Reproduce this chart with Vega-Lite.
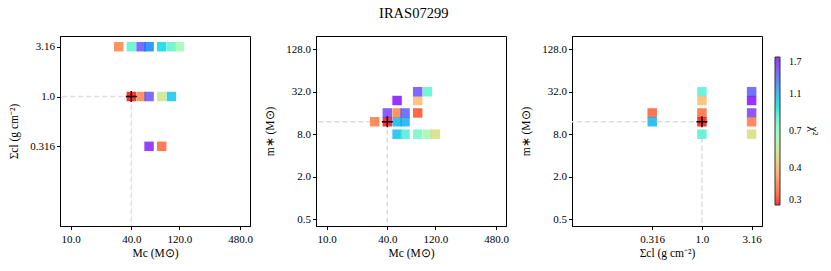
{
  "$schema": "https://vega.github.io/schema/vega-lite/v6.json",
  "padding": {"left": 7, "top": 6, "right": 5, "bottom": 5},
  "title": {"text": "IRAS07299", "fontSize": 14.5, "fontWeight": "normal", "font": "Liberation Serif", "anchor": "middle", "offset": 14, "color": "#000"},
  "datasets": {
    "mcs": [
      {"Mc": 30, "sigma": 3.16, "chi2": 0.36},
      {"Mc": 40, "sigma": 3.16, "chi2": 0.8},
      {"Mc": 50, "sigma": 3.16, "chi2": 1.5},
      {"Mc": 60, "sigma": 3.16, "chi2": 1.27},
      {"Mc": 80, "sigma": 3.16, "chi2": 0.95},
      {"Mc": 100, "sigma": 3.16, "chi2": 0.8},
      {"Mc": 120, "sigma": 3.16, "chi2": 0.64},
      {"Mc": 40, "sigma": 1, "chi2": 0.27},
      {"Mc": 50, "sigma": 1, "chi2": 0.36},
      {"Mc": 60, "sigma": 1, "chi2": 1.5},
      {"Mc": 80, "sigma": 1, "chi2": 0.52},
      {"Mc": 100, "sigma": 1, "chi2": 1.02},
      {"Mc": 60, "sigma": 0.316, "chi2": 1.68},
      {"Mc": 80, "sigma": 0.316, "chi2": 0.33}
    ],
    "mcm": [
      {"Mc": 50, "mstar": 8, "chi2": 1.05},
      {"Mc": 60, "mstar": 8, "chi2": 0.85},
      {"Mc": 80, "mstar": 8, "chi2": 0.74},
      {"Mc": 100, "mstar": 8, "chi2": 0.62},
      {"Mc": 120, "mstar": 8, "chi2": 0.5},
      {"Mc": 30, "mstar": 12, "chi2": 0.35},
      {"Mc": 40, "mstar": 12, "chi2": 0.27},
      {"Mc": 50, "mstar": 12, "chi2": 1.08},
      {"Mc": 60, "mstar": 12, "chi2": 1.1},
      {"Mc": 40, "mstar": 16, "chi2": 1.6},
      {"Mc": 50, "mstar": 16, "chi2": 0.36},
      {"Mc": 60, "mstar": 16, "chi2": 1.45},
      {"Mc": 80, "mstar": 16, "chi2": 0.3},
      {"Mc": 50, "mstar": 24, "chi2": 1.7},
      {"Mc": 80, "mstar": 24, "chi2": 0.43},
      {"Mc": 80, "mstar": 32, "chi2": 1.55},
      {"Mc": 100, "mstar": 32, "chi2": 0.8}
    ],
    "sm": [
      {"sigma": 0.316, "mstar": 16, "chi2": 0.32},
      {"sigma": 0.316, "mstar": 12, "chi2": 1.08},
      {"sigma": 1, "mstar": 32, "chi2": 0.82},
      {"sigma": 1, "mstar": 24, "chi2": 0.43},
      {"sigma": 1, "mstar": 16, "chi2": 0.34},
      {"sigma": 1, "mstar": 12, "chi2": 0.27},
      {"sigma": 1, "mstar": 8, "chi2": 0.82},
      {"sigma": 3.16, "mstar": 32, "chi2": 1.45},
      {"sigma": 3.16, "mstar": 24, "chi2": 1.7},
      {"sigma": 3.16, "mstar": 16, "chi2": 1.62},
      {"sigma": 3.16, "mstar": 12, "chi2": 0.35},
      {"sigma": 3.16, "mstar": 8, "chi2": 0.5}
    ],
    "best": [
      {"Mc": 40, "sigma": 1, "mstar": 12}
    ]
  },
  "spacing": 10,
  "hconcat": [
    {
      "width": 190, "height": 190,
      "encoding": {
        "x": {"field": "Mc", "type": "quantitative", "scale": {"type": "log", "domain": [7.84, 602], "nice": false, "zero": false}, "axis": {"values": [10, 40, 120, 480], "format": ".1f", "title": "Mc (M⊙)"}},
        "y": {"field": "sigma", "type": "quantitative", "scale": {"type": "log", "domain": [0.0501, 4.05], "nice": false, "zero": false}, "axis": {"values": [0.316, 1, 3.16], "labelExpr": "datum.value == 1 ? '1.0' : format(datum.value, '.3~g')", "title": "Σcl (g cm⁻²)"}}
      },
      "layer": [
        {"data": {"name": "best"}, "mark": {"type": "rule", "color": "#dddddd", "strokeWidth": 1.5, "strokeDash": [5, 3]}, "encoding": {"x2": {"datum": 7.84}}},
        {"data": {"name": "best"}, "mark": {"type": "rule", "color": "#dddddd", "strokeWidth": 1.5, "strokeDash": [5, 3]}, "encoding": {"y2": {"datum": 0.0501}}},
        {"data": {"name": "mcs"}, "mark": {"type": "point", "shape": "square", "filled": true, "size": 90, "opacity": 0.8}, "encoding": {"color": {"field": "chi2", "type": "quantitative", "scale": {"type": "log", "domain": [0.27, 1.7], "range": ["#ff0000", "#ff6232", "#ffb462", "#bfec8e", "#80ffb4", "#40ecd4", "#00b4ec", "#4062fa", "#8000ff"]}, "legend": {"values": [0.27, 0.428, 0.677, 1.073, 1.7], "format": ".1f", "title": "χ²", "titleOrient": "right", "orient": "none", "legendX": 715, "legendY": 21, "direction": "vertical", "gradientLength": 148, "gradientThickness": 5, "gradientStrokeColor": "#000", "gradientStrokeWidth": 1, "labelOffset": 9, "labelFontSize": 10, "labelFont": "Liberation Serif", "labelColor": "#000", "titleFontSize": 12, "titleFont": "Liberation Serif", "titleFontWeight": "normal", "titleColor": "#000", "titlePadding": 5, "encode": {"title": {"update": {"angle": {"value": -90}}}}}}}},
        {"data": {"name": "best"}, "mark": {"type": "point", "shape": "M-1,0L1,0M0,-1L0,1", "filled": false, "size": 121, "stroke": "#000", "strokeWidth": 1.5, "opacity": 1}}
      ]
    },
    {
      "width": 190, "height": 190,
      "encoding": {
        "x": {"field": "Mc", "type": "quantitative", "scale": {"type": "log", "domain": [7.84, 602], "nice": false, "zero": false}, "axis": {"values": [10, 40, 120, 480], "format": ".1f", "title": "Mc (M⊙)"}},
        "y": {"field": "mstar", "type": "quantitative", "scale": {"type": "log", "domain": [0.40, 197], "nice": false, "zero": false}, "axis": {"values": [0.5, 2, 8, 32, 128], "format": ".1f", "title": "m∗ (M⊙)"}}
      },
      "layer": [
        {"data": {"name": "best"}, "mark": {"type": "rule", "color": "#dddddd", "strokeWidth": 1.5, "strokeDash": [5, 3]}, "encoding": {"x2": {"datum": 7.84}}},
        {"data": {"name": "best"}, "mark": {"type": "rule", "color": "#dddddd", "strokeWidth": 1.5, "strokeDash": [5, 3]}, "encoding": {"y2": {"datum": 0.40}}},
        {"data": {"name": "mcm"}, "mark": {"type": "point", "shape": "square", "filled": true, "size": 90, "opacity": 0.8}, "encoding": {"color": {"field": "chi2", "type": "quantitative", "scale": {"type": "log", "domain": [0.27, 1.7], "range": ["#ff0000", "#ff6232", "#ffb462", "#bfec8e", "#80ffb4", "#40ecd4", "#00b4ec", "#4062fa", "#8000ff"]}}}},
        {"data": {"name": "best"}, "mark": {"type": "point", "shape": "M-1,0L1,0M0,-1L0,1", "filled": false, "size": 121, "stroke": "#000", "strokeWidth": 1.5, "opacity": 1}}
      ]
    },
    {
      "width": 190, "height": 190,
      "encoding": {
        "x": {"field": "sigma", "type": "quantitative", "scale": {"type": "log", "domain": [0.0493, 4.02], "nice": false, "zero": false}, "axis": {"values": [0.316, 1, 3.16], "labelExpr": "datum.value == 1 ? '1.0' : format(datum.value, '.3~g')", "title": "Σcl (g cm⁻²)"}},
        "y": {"field": "mstar", "type": "quantitative", "scale": {"type": "log", "domain": [0.40, 197], "nice": false, "zero": false}, "axis": {"values": [0.5, 2, 8, 32, 128], "format": ".1f", "title": "m∗ (M⊙)"}}
      },
      "layer": [
        {"data": {"name": "best"}, "mark": {"type": "rule", "color": "#dddddd", "strokeWidth": 1.5, "strokeDash": [5, 3]}, "encoding": {"x2": {"datum": 0.0493}}},
        {"data": {"name": "best"}, "mark": {"type": "rule", "color": "#dddddd", "strokeWidth": 1.5, "strokeDash": [5, 3]}, "encoding": {"y2": {"datum": 0.40}}},
        {"data": {"name": "sm"}, "mark": {"type": "point", "shape": "square", "filled": true, "size": 90, "opacity": 0.8}, "encoding": {"color": {"field": "chi2", "type": "quantitative", "scale": {"type": "log", "domain": [0.27, 1.7], "range": ["#ff0000", "#ff6232", "#ffb462", "#bfec8e", "#80ffb4", "#40ecd4", "#00b4ec", "#4062fa", "#8000ff"]}}}},
        {"data": {"name": "best"}, "mark": {"type": "point", "shape": "M-1,0L1,0M0,-1L0,1", "filled": false, "size": 121, "stroke": "#000", "strokeWidth": 1.5, "opacity": 1}}
      ]
    }
  ],
  "config": {
    "font": "Liberation Serif",
    "view": {"stroke": "#000", "strokeWidth": 1},
    "axis": {"grid": false, "domainColor": "#000", "domainWidth": 1, "tickColor": "#000", "tickSize": 3.5, "labelColor": "#000", "titleColor": "#000", "labelFont": "Liberation Serif", "titleFont": "Liberation Serif", "labelFontSize": 11, "titleFontSize": 11.5, "titleFontWeight": "normal", "labelPadding": 2},
    "axisY": {"minExtent": 30, "maxExtent": 30, "titlePadding": 11},
    "axisX": {"titlePadding": 3, "labelAngle": 0, "labelPadding": 4}
  }
}
